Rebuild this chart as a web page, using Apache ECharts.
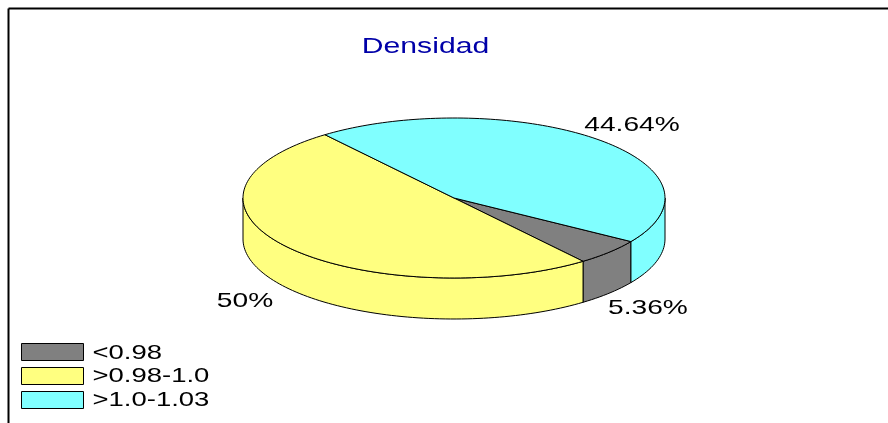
<!DOCTYPE html>
<html>
<head>
<meta charset="utf-8">
<style>html,body{margin:0;padding:0;background:#fff}#c{width:888px;height:423px}</style>
<script src="https://cdn.jsdelivr.net/npm/echarts@6/dist/echarts.min.js"></script>
</head>
<body>
<div id="c"></div>
<script>
var titleText = 'Densidad';
var categories = ['<0.98', '>0.98-1.0', '>1.0-1.03'];
var values = [5.36, 50, 44.64];
var valueLabels = ['5.36%', '50%', '44.64%'];
var colors = ['#808080', '#FFFF80', '#80FFFF'];

var pie = { cx: 454, cy: 198, rx: 211, ry: 80, depth: 41, start: 33 };
var labelCentres = [[648, 308], [245, 301], [632, 125]];
var stretch = 1.34;
var font = 'Liberation Sans, Arial, sans-serif';

var total = values.reduce(function (a, b) { return a + b; }, 0);

function pt(deg, dy) {
  var r = deg * Math.PI / 180;
  return [pie.cx + pie.rx * Math.cos(r), pie.cy + pie.ry * Math.sin(r) + dy];
}
function arc(a0, a1, dy) {
  var out = [], n = Math.max(2, Math.ceil(Math.abs(a1 - a0) / 1.5));
  for (var i = 0; i <= n; i++) out.push(pt(a0 + (a1 - a0) * i / n, dy));
  return out;
}
function sideShape(a0, a1) {
  var lo = Math.max(a0, 0), hi = Math.min(a1, 180);
  if (hi <= lo) return null;
  return arc(lo, hi, 0).concat(arc(hi, lo, pie.depth));
}
function renderSlice(index) {
  return function (params, api) {
    var before = 0;
    for (var i = 0; i < index; i++) before += values[i];
    var a0 = pie.start + before / total * 360;
    var a1 = a0 + api.value(0) / total * 360;
    var style = { fill: colors[index], stroke: '#000', lineWidth: 1 };
    var kids = [];
    [sideShape(a0, a1), sideShape(a0 - 360, a1 - 360)].forEach(function (p) {
      if (p) kids.push({ type: 'polygon', shape: { points: p }, style: style });
    });
    kids.push({
      type: 'polygon',
      shape: { points: [[pie.cx, pie.cy]].concat(arc(a0, a1, 0)) },
      style: style
    });
    return { type: 'group', children: kids };
  };
}
function stretchedText(str, x, y, size, fill, align) {
  return {
    type: 'text', x: x, y: y, scaleX: stretch, z: 10, silent: true,
    style: { text: str, fill: fill, font: size + 'px ' + font, textAlign: align, textVerticalAlign: 'middle' }
  };
}

var graphics = [
  { type: 'line', shape: { x1: 8.5, y1: 8.5, x2: 888, y2: 8.5 }, style: { stroke: '#000', lineWidth: 2 } },
  { type: 'line', shape: { x1: 8.5, y1: 8.5, x2: 8.5, y2: 423 }, style: { stroke: '#000', lineWidth: 2 } },
  stretchedText(titleText, 425.5, 46.5, 22.5, '#0000A8', 'center')
];
valueLabels.forEach(function (t, i) {
  graphics.push(stretchedText(t, labelCentres[i][0], labelCentres[i][1], 21, '#000', 'center'));
});
categories.forEach(function (t, i) {
  graphics.push(stretchedText(t, 92.5, 353 + i * 23.7, 20.5, '#000', 'left'));
});

var chart = echarts.init(document.getElementById('c'), null, { renderer: 'canvas' });
chart.setOption({
  animation: false,
  backgroundColor: '#fff',
  legend: {
    show: true, left: 21, top: 343, orient: 'vertical', padding: 0,
    itemWidth: 62, itemHeight: 17, itemGap: 6, icon: 'rect',
    selectedMode: false,
    itemStyle: { borderColor: '#000', borderWidth: 1 },
    formatter: function () { return ''; },
    data: categories
  },
  graphic: graphics,
  series: categories.map(function (name, i) {
    return {
      type: 'custom', name: name, coordinateSystem: 'none', silent: true,
      itemStyle: { color: colors[i] },
      renderItem: renderSlice(i),
      data: [values[i]]
    };
  })
});
</script>
</body>
</html>
